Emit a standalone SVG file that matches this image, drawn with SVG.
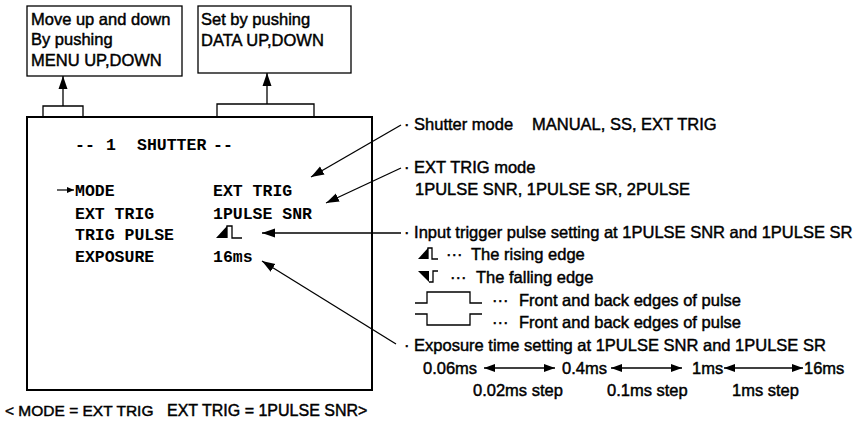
<svg xmlns="http://www.w3.org/2000/svg" width="859" height="422" viewBox="0 0 859 422">
<style>
.t{font-family:"Liberation Sans",Arial,sans-serif;font-size:16.5px;fill:#000;stroke:#000;stroke-width:0.45}
.m{font-family:"Liberation Mono","Courier New",monospace;font-size:16.5px;font-weight:bold;fill:#000}
.box{fill:#fff;stroke:#000;stroke-width:1.3}
.main{fill:#fff;stroke:#000;stroke-width:2}
.ln{fill:none;stroke:#000;stroke-width:1.3}
.cn{fill:none;stroke:#000;stroke-width:1.3;marker-end:url(#ah)}
.dbl{fill:none;stroke:#000;stroke-width:1.3;marker-start:url(#ah2);marker-end:url(#ah2)}
</style>
<defs>
<marker id="ah" markerUnits="userSpaceOnUse" markerWidth="14" markerHeight="10" refX="13" refY="5" orient="auto"><path d="M0,0.5 L13,5 L0,9.5 z" fill="#000"/></marker>
<marker id="ah2" markerUnits="userSpaceOnUse" markerWidth="12" markerHeight="10" refX="11" refY="4.5" orient="auto-start-reverse"><path d="M0,0.5 L11,4.5 L0,8.5 z" fill="#000"/></marker>
<marker id="ahs" markerUnits="userSpaceOnUse" markerWidth="8" markerHeight="6" refX="7" refY="3" orient="auto"><path d="M0,0 L7,3 L0,6 z" fill="#000"/></marker>
</defs>
<rect width="859" height="422" fill="#fff"/>

<g id="box-menu">
<rect class="box" x="27" y="6" width="155" height="70"/>
<text class="t" x="31" y="25">Move up and down</text>
<text class="t" x="31" y="45">By pushing</text>
<text class="t" x="31" y="66">MENU UP,DOWN</text>
</g>

<g id="box-data">
<rect class="box" x="198" y="6" width="153" height="67"/>
<text class="t" x="201" y="25">Set by pushing</text>
<text class="t" x="201" y="46">DATA UP,DOWN</text>
</g>

<g id="screen">
<rect class="main" x="27" y="117" width="345" height="273"/>
<path class="ln" d="M43,117 V106 H83 V117"/>
<path class="ln" d="M217,117 V104 H314 V117"/>
<text class="m" y="150"><tspan x="75">--</tspan><tspan x="106">1</tspan><tspan x="137">SHUTTER</tspan><tspan x="213">--</tspan></text>
<line x1="57" y1="190" x2="74" y2="190" stroke="#000" stroke-width="1.2" marker-end="url(#ahs)"/>
<text class="m" x="75" y="196">MODE</text>
<text class="m" x="213" y="196">EXT TRIG</text>
<text class="m" x="75" y="219">EXT TRIG</text>
<text class="m" x="213" y="219">1PULSE SNR</text>
<text class="m" x="75" y="240">TRIG PULSE</text>
<polygon points="216,238 227,226 227,238" fill="#000"/>
<path class="ln" d="M227,238 V226 H232 V238 H242" stroke-width="1.5"/>
<text class="m" x="75" y="262">EXPOSURE</text>
<text class="m" x="213" y="262">16ms</text>
</g>

<g id="caption">
<text class="t" x="5" y="416" style="font-size:15.5px">&lt; MODE = EXT TRIG</text>
<text class="t" x="167" y="416" style="font-size:16px">EXT TRIG = 1PULSE SNR&gt;</text>
</g>

<g id="note-shutter">
<text class="t" x="404" y="130">· Shutter mode<tspan x="532">MANUAL, SS, EXT TRIG</tspan></text>
</g>

<g id="note-exttrig">
<text class="t" x="404" y="173">· EXT TRIG mode</text>
<text class="t" x="415" y="195">1PULSE SNR, 1PULSE SR, 2PULSE</text>
</g>

<g id="note-pulse">
<text class="t" x="404" y="238">· Input trigger pulse setting at 1PULSE SNR and 1PULSE SR</text>
<polygon points="418,259 428,248 428,259" fill="#000"/>
<path class="ln" d="M428,259 V248 H432 V259 H438" stroke-width="1.5"/>
<text class="t" x="446" y="260">···</text>
<text class="t" x="471" y="260">The rising edge</text>
<polygon points="418,271 429,271 429,282" fill="#000"/>
<path class="ln" d="M429,282 H433 V271 H438" stroke-width="1.5"/>
<text class="t" x="450" y="283">···</text>
<text class="t" x="476" y="283">The falling edge</text>
<path class="ln" d="M415,303 H427 V292 H470 V303 H482"/>
<text class="t" x="492" y="306">···</text>
<text class="t" x="519" y="306">Front and back edges of pulse</text>
<path class="ln" d="M415,314 H427 V325 H470 V314 H482"/>
<text class="t" x="492" y="328">···</text>
<text class="t" x="519" y="328">Front and back edges of pulse</text>
</g>

<g id="note-exposure">
<text class="t" x="404" y="351">· Exposure time setting at 1PULSE SNR and 1PULSE SR</text>
<text class="t" x="423" y="374">0.06ms</text>
<text class="t" x="562" y="374">0.4ms</text>
<text class="t" x="692" y="374">1ms</text>
<text class="t" x="804" y="374">16ms</text>
<text class="t" x="473" y="396">0.02ms step</text>
<text class="t" x="607" y="396">0.1ms step</text>
<text class="t" x="732" y="396">1ms step</text>
<line class="dbl" x1="484" y1="368" x2="555" y2="368"/>
<line class="dbl" x1="611" y1="368" x2="682" y2="368"/>
<line class="dbl" x1="724" y1="368" x2="803" y2="368"/>
</g>

<g id="connectors">
<line class="cn" x1="63" y1="106" x2="63" y2="76"/>
<line class="cn" x1="267" y1="104" x2="267" y2="73"/>
<line class="cn" x1="401" y1="125" x2="311" y2="177"/>
<line class="cn" x1="401" y1="168" x2="326" y2="203"/>
<line class="cn" x1="401" y1="233" x2="262" y2="233"/>
<line class="cn" x1="396" y1="344" x2="262" y2="261"/>
</g>
</svg>
